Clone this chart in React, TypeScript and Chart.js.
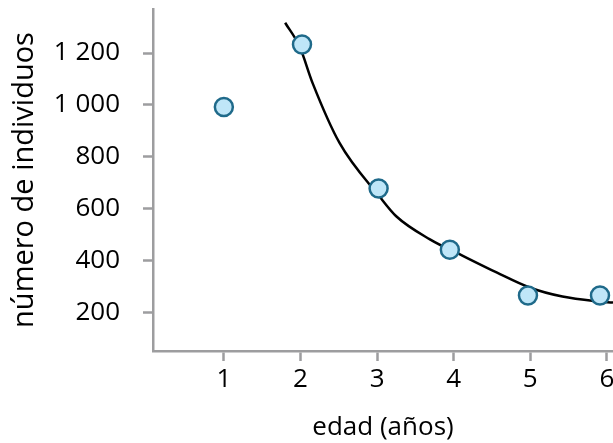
import React, { useEffect, useRef } from "react";
import { Chart, registerables } from "chart.js";

Chart.register(...registerables);

const ages = [1, 2.02, 3.02, 3.95, 4.97, 5.91];
const counts = [992, 1233, 677, 441, 264, 264];

const curveX = [1.8, 1.99, 2.16, 2.51, 3.03, 3.25, 3.69, 4.12, 4.56, 4.99, 5.42, 5.86, 6.08];
const curveY = [1317, 1224, 1083, 853, 647, 570, 481, 417, 353, 295, 260, 242, 237];

const xTicks = [1, 2, 3, 4, 5, 6];
const yTicks = [200, 400, 600, 800, 1000, 1200];

const xTitle = "edad (años)";
const yTitle = "número de individuos";

const FONT = "'Open Sans', sans-serif";
const AXIS = "#9d9d9f";
const TEXT = "#000000";

const noPad = (s: any) => {
  s.paddingTop = 0;
  s.paddingBottom = 0;
  s.paddingLeft = 0;
  s.paddingRight = 0;
  if (s._margins) {
    s._margins.left = 0;
    s._margins.right = 0;
    s._margins.top = 0;
    s._margins.bottom = 0;
  }
};

export default function App() {
  const ref = useRef<HTMLCanvasElement | null>(null);
  useEffect(() => {
    if (!ref.current) return;
    const chart = new Chart(ref.current, {
      type: "scatter",
      data: {
        datasets: [
          {
            data: ages.map((x, i) => ({ x, y: counts[i] })),
            pointRadius: 9,
            pointBackgroundColor: "#bfe6f8",
            pointBorderColor: "#1f6a8a",
            pointBorderWidth: 2.5,
            order: 0,
          },
          {
            data: curveX.map((x, i) => ({ x, y: curveY[i] })),
            showLine: true,
            pointRadius: 0,
            borderColor: "#000000",
            borderWidth: 2.5,
            cubicInterpolationMode: "monotone",
            order: 1,
          },
        ],
      },
      options: {
        animation: false,
        responsive: false,
        maintainAspectRatio: false,
        layout: { autoPadding: false, padding: { top: 9, right: 0, left: 0, bottom: 0 } },
        plugins: { legend: { display: false }, tooltip: { enabled: false } },
        scales: {
          x: {
            type: "linear",
            min: 0.075,
            max: 6.08,
            afterBuildTicks: (s: any) => {
              s.ticks = xTicks.map((v) => ({ value: v }));
            },
            afterFit: (s: any) => {
              s.height = 92;
              noPad(s);
            },
            grid: { drawOnChartArea: false, drawTicks: true, tickLength: 10, tickColor: AXIS, tickWidth: 2.5 },
            border: { display: true, color: AXIS, width: 2.5 },
            ticks: { color: TEXT, font: { family: FONT, size: 26 }, padding: 3, maxRotation: 0 },
            title: { display: true, text: xTitle, color: TEXT, font: { family: FONT, size: 26 }, padding: { top: 0, bottom: 0 } },
          },
          y: {
            type: "linear",
            min: 50,
            max: 1370,
            afterBuildTicks: (s: any) => {
              s.ticks = yTicks.map((v) => ({ value: v }));
            },
            afterFit: (s: any) => {
              s.width = 153;
              noPad(s);
            },
            grid: { drawOnChartArea: false, drawTicks: true, tickLength: 10, tickColor: AXIS, tickWidth: 2.5 },
            border: { display: true, color: AXIS, width: 2.5 },
            ticks: {
              color: TEXT,
              font: { family: FONT, size: 26 },
              padding: 23,
              callback: (v: any) => {
                const n = Number(v);
                return n >= 1000 ? `${Math.floor(n / 1000)} ${String(n % 1000).padStart(3, "0")}` : String(n);
              },
            },
            title: { display: true, text: yTitle, color: TEXT, font: { family: FONT, size: 29 }, padding: { top: 7, bottom: 0 } },
          },
        },
      },
    });
    return () => chart.destroy();
  }, []);
  return (
    <div style={{ position: "fixed", left: 0, top: 0, width: 613, height: 443, background: "#fff" }}>
      <canvas ref={ref} width={613} height={443} style={{ display: "block" }} />
    </div>
  );
}
